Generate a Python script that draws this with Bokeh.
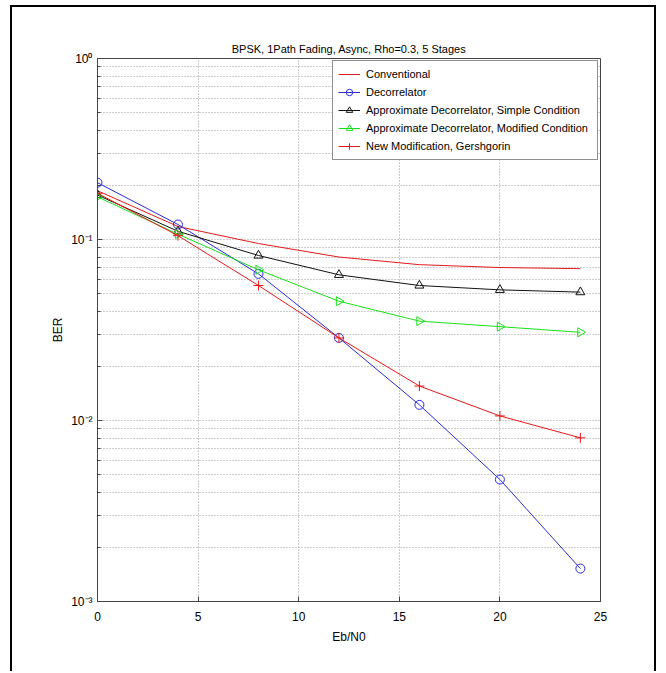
import math
from bokeh.plotting import figure
from bokeh.models import FixedTicker, Legend, LegendItem, Range1d
from bokeh.embed import file_html
from bokeh.resources import INLINE

# ---- data ----
ebn0 = [0, 4, 8, 12, 16, 20, 24]
conventional = [0.186, 0.118, 0.095, 0.080, 0.0726, 0.0700, 0.0690]
decorrelator = [0.206, 0.121, 0.0646, 0.0286, 0.0122, 0.00472, 0.00152]
approx_simple = [0.176, 0.111, 0.0816, 0.0638, 0.0557, 0.0527, 0.0512]
approx_modified = [0.172, 0.107, 0.068, 0.0456, 0.0354, 0.033, 0.0307]
gershgorin = [0.180, 0.105, 0.0557, 0.0286, 0.0155, 0.0106, 0.00802]

x_ticks = [0, 5, 10, 15, 20, 25]
y_ticks = [0.001, 0.01, 0.1, 1.0]
y_tick_labels = ["10\u207b\u00b3", "10\u207b\u00b2", "10\u207b\u00b9", "10\u2070"]
y_minor = [k * 10.0 ** e for e in (-3, -2, -1) for k in range(2, 10)]

title_text = "BPSK, 1Path Fading, Async, Rho=0.3, 5 Stages"
labels = [
    "Conventional",
    "Decorrelator",
    "Approximate Decorrelator, Simple Condition",
    "Approximate Decorrelator, Modified Condition",
    "New Modification, Gershgorin",
]

FONT = "Liberation Sans"
RED = "#e41a1a"
BLUE = "#2b2bd9"
BLACK = "#111111"
GREEN = "#19e019"
GRID = "#9a9a9a"

p = figure(
    width=646, height=666,
    y_axis_type="log",
    x_range=Range1d(0, 25), y_range=Range1d(0.001, 1.0),
    output_backend="svg", toolbar_location=None,
    min_border_left=85, min_border_right=58, min_border_top=51, min_border_bottom=72,
    title=title_text,
)
p.margin = (5, 0, 0, 10)
p.styles = {
    "border-left": "2px solid black",
    "border-top": "2px solid black",
    "border-right": "2px solid black",
}

p.title.align = "center"
p.title.text_font = FONT
p.title.text_font_size = "11px"
p.title.text_font_style = "normal"
p.title.text_color = "#000000"
p.title.standoff = 7

p.outline_line_color = "#444444"
p.outline_line_width = 1

# axes
p.xaxis.ticker = FixedTicker(ticks=x_ticks)
p.yaxis.ticker = FixedTicker(ticks=y_ticks, minor_ticks=y_minor)
p.yaxis.major_label_overrides = {t: l for t, l in zip(y_ticks, y_tick_labels)}
for ax in (p.xaxis[0], p.yaxis[0]):
    ax.axis_line_color = "#444444"
    ax.major_tick_line_color = "#444444"
    ax.minor_tick_line_color = "#444444"
    ax.major_tick_in = 5
    ax.major_tick_out = 0
    ax.minor_tick_in = 3
    ax.minor_tick_out = 0
    ax.major_label_text_font = FONT
    ax.major_label_text_font_size = "12px"
    ax.major_label_text_color = "#000000"
    ax.axis_label_text_font = FONT
    ax.axis_label_text_font_size = "12px"
    ax.axis_label_text_font_style = "normal"
    ax.axis_label_text_color = "#000000"
p.xaxis.axis_label = "Eb/N0"
p.yaxis.axis_label = "BER"
p.xaxis.major_label_standoff = 10
p.yaxis.major_label_standoff = 5
p.xaxis.axis_label_standoff = 6
p.yaxis.axis_label_standoff = 3

# grid
p.xgrid.grid_line_color = GRID
p.xgrid.grid_line_dash = "1 2"
p.ygrid.grid_line_color = GRID
p.ygrid.grid_line_dash = "1 2"
p.ygrid.minor_grid_line_color = GRID
p.ygrid.minor_grid_line_dash = "1 2"

# series
r_conv = p.line(ebn0, conventional, line_color=RED, line_width=1)

r_dec_l = p.line(ebn0, decorrelator, line_color=BLUE, line_width=1)
r_dec_m = p.scatter(ebn0, decorrelator, marker="circle", size=9,
                    line_color=BLUE, fill_color=None, line_width=1)

r_sim_l = p.line(ebn0, approx_simple, line_color=BLACK, line_width=1)
r_sim_m = p.scatter(ebn0, approx_simple, marker="triangle", size=9,
                    line_color=BLACK, fill_color=None, line_width=1)

r_mod_l = p.line(ebn0, approx_modified, line_color=GREEN, line_width=1)
r_mod_m = p.scatter(ebn0, approx_modified, marker="triangle", size=9, angle=-math.pi / 2,
                    line_color=GREEN, fill_color=None, line_width=1)

r_ger_l = p.line(ebn0, gershgorin, line_color=RED, line_width=1)
r_ger_m = p.scatter(ebn0, gershgorin, marker="cross", size=10,
                    line_color=RED, line_width=1)

legend = Legend(
    items=[
        LegendItem(label=labels[0], renderers=[r_conv]),
        LegendItem(label=labels[1], renderers=[r_dec_l, r_dec_m]),
        LegendItem(label=labels[2], renderers=[r_sim_l, r_sim_m]),
        LegendItem(label=labels[3], renderers=[r_mod_l, r_mod_m]),
        LegendItem(label=labels[4], renderers=[r_ger_l, r_ger_m]),
    ],
    location="top_right",
)
legend.margin = 2
legend.padding = 5
legend.spacing = 2
legend.glyph_width = 22
legend.glyph_height = 16
legend.label_height = 16
legend.label_width = 226
legend.label_standoff = 6
legend.label_text_font = FONT
legend.label_text_font_size = "11px"
legend.label_text_color = "#000000"
legend.border_line_color = "#222222"
legend.border_line_width = 1
legend.background_fill_color = "white"
legend.background_fill_alpha = 1.0
p.add_layout(legend)

open("out.html", "w").write(file_html(p, INLINE))
